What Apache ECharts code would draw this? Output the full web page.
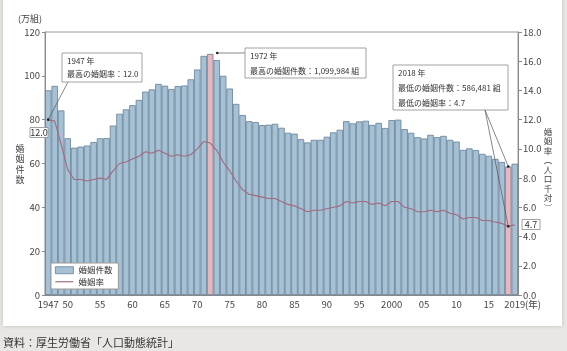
<!DOCTYPE html>
<html>
<head>
<meta charset="utf-8">
<script src="https://cdn.jsdelivr.net/npm/echarts@6/dist/echarts.min.js"></script>
<style>
  html, body { margin: 0; padding: 0; background: #e9e7e4; }
  #chart { width: 567px; height: 351px; }
</style>
</head>
<body>
<div id="chart"></div>
<script>
// 婚姻件数（万組）と婚姻率（人口千対）
const years = []
for (let y = 1947; y <= 2019; y++) years.push(String(y))

const marriages = [
  93.4, 95.4, 84.2, 71.5, 67.2, 67.7, 68.2, 69.8, 71.5, 71.6,
  77.3, 82.7, 84.7, 86.6, 89.0, 92.8, 93.8, 96.3, 95.5, 94.0,
  95.3, 95.6, 98.4, 102.9, 109.1, 110.0, 107.2, 100.0, 94.2, 87.2,
  82.1, 79.3, 78.9, 77.5, 77.7, 78.1, 76.3, 74.0, 73.6, 71.1,
  69.6, 70.8, 70.8, 72.2, 74.2, 75.4, 79.3, 78.3, 79.2, 79.5,
  77.6, 78.5, 76.2, 79.8, 80.0, 75.7, 74.0, 72.0, 71.4, 73.1,
  72.0, 72.6, 70.8, 70.0, 66.2, 66.9, 66.1, 64.4, 63.5, 62.1,
  60.7, 58.6, 59.9
]

const rates = [
  12.0, 11.9, 10.3, 8.6, 7.9, 7.9, 7.8, 7.9, 8.0, 7.9,
  8.5, 9.0, 9.1, 9.3, 9.5, 9.8, 9.7, 9.9, 9.7, 9.5,
  9.6, 9.5, 9.6, 10.0, 10.5, 10.4, 9.9, 9.1, 8.5, 7.8,
  7.2, 6.9, 6.8, 6.7, 6.6, 6.6, 6.4, 6.2, 6.1, 5.9,
  5.7, 5.8, 5.8, 5.9, 6.0, 6.1, 6.4, 6.3, 6.4, 6.4,
  6.2, 6.3, 6.1, 6.4, 6.4, 6.0, 5.9, 5.7, 5.7, 5.8,
  5.7, 5.8, 5.6, 5.5, 5.2, 5.3, 5.3, 5.1, 5.1, 5.0,
  4.9, 4.7, 4.8
]

const highlightYears = ['1972', '2018']
const countsExact = { '1972': 1099984, '2018': 586481 }
const leftTicks = { min: 0, max: 120, interval: 20 }
const rightTicks = { min: 0, max: 18, interval: 2 }

const FONT = '"Noto Sans CJK JP", "Noto Sans", sans-serif'
const BAR = '#a6c1d4'
const BAR_EDGE = '#637f97'
const PINK = '#e6b8be'
const LINE = '#a2697f'

const chart = echarts.init(document.getElementById('chart'))

chart.setOption({
  animation: false,
  textStyle: { fontFamily: FONT },
  grid: {
    left: 45, right: 49, top: 32, bottom: 56,
    show: true, borderColor: '#9a9a9a', borderWidth: 1
  },
  legend: {
    orient: 'vertical',
    left: 51, top: 263,
    backgroundColor: '#fff',
    borderColor: '#9a9a9a', borderWidth: 1,
    padding: [3, 6, 3, 4],
    itemWidth: 18, itemHeight: 7, itemGap: 3,
    textStyle: { fontSize: 8.5, color: '#333', fontFamily: FONT },
    data: [
      { name: '婚姻件数', icon: 'rect', itemStyle: { color: BAR, borderColor: BAR_EDGE, borderWidth: 0.8 } },
      { name: '婚姻率', icon: 'path://M0,0H20V1.3H0Z', itemStyle: { color: LINE, borderWidth: 0 } }
    ]
  },
  xAxis: {
    type: 'category',
    data: years,
    axisLine: { lineStyle: { color: '#8a8a8a' } },
    axisTick: { show: false },
    axisLabel: {
      color: '#444', fontSize: 9.5, margin: 5, fontFamily: FONT,
      interval: (i, v) => i === 0 || v === '2019' || (+v % 5 === 0 && +v >= 1950 && +v <= 2015),
      formatter: v => (v === '1947' || v === '2000' || v === '2019') ? v : v.slice(2)
    }
  },
  yAxis: [{
    type: 'value',
    min: leftTicks.min, max: leftTicks.max, interval: leftTicks.interval,
    axisLine: { show: true, lineStyle: { color: '#8a8a8a' } },
    axisTick: { show: true, length: 3, lineStyle: { color: '#8a8a8a' } },
    axisLabel: { color: '#444', fontSize: 9.5, margin: 5, fontFamily: FONT },
    splitLine: { show: false }
  }, {
    type: 'value',
    position: 'right',
    min: rightTicks.min, max: rightTicks.max, interval: rightTicks.interval,
    axisLine: { show: true, lineStyle: { color: '#8a8a8a' } },
    axisTick: { show: true, length: 4, lineStyle: { color: '#8a8a8a' } },
    axisLabel: { color: '#444', fontSize: 9.5, margin: 5, fontFamily: FONT, formatter: v => v.toFixed(1) },
    splitLine: { show: false }
  }],
  series: [{
    name: '婚姻件数',
    type: 'bar',
    data: marriages,
    barCategoryGap: '0%',
    itemStyle: {
      color: p => highlightYears.includes(p.name) ? PINK : BAR,
      borderColor: BAR_EDGE,
      borderWidth: 0.8
    }
  }, {
    name: '婚姻率',
    type: 'line',
    yAxisIndex: 1,
    data: rates,
    symbol: 'none',
    lineStyle: { color: LINE, width: 1.1 },
    itemStyle: { color: LINE },
    z: 5
  }]
})

// 注記（吹き出し）: 指す先の位置はライブラリの座標変換から取る
const px = (si, name, val) => chart.convertToPixel({ seriesIndex: si }, [years.indexOf(name), val])

const iMaxRate = rates.indexOf(Math.max(...rates))
const iMaxCount = marriages.indexOf(Math.max(...marriages))
const iMinCount = marriages.indexOf(Math.min(...marriages))
const iMinRate = rates.indexOf(Math.min(...rates))

const pMaxRate = px(1, years[iMaxRate], rates[iMaxRate])
const pMaxCount = px(0, years[iMaxCount], marriages[iMaxCount])
const pMinCount = px(0, years[iMinCount], marriages[iMinCount])
const pMinRate = px(1, years[iMinRate], rates[iMinRate])

const countText = y => (countsExact[y] || 0).toLocaleString('en-US')

function box(x, y, w, h, lines, gap) {
  const els = [{
    type: 'rect', shape: { x: x, y: y, width: w, height: h },
    style: { fill: '#fff', stroke: '#8a8a8a', lineWidth: 0.8 }, z: 20
  }]
  lines.forEach((t, i) => {
    els.push({
      type: 'text', x: x + 5, y: y + 8 + i * gap, z: 21,
      style: { text: t, fontSize: 8, fill: '#333', fontFamily: FONT, verticalAlign: 'middle' }
    })
  })
  return els
}
function leader(x1, y1, x2, y2) {
  return [{
    type: 'line', shape: { x1: x1, y1: y1, x2: x2, y2: y2 },
    style: { stroke: '#555', lineWidth: 0.7 }, z: 19
  }, {
    type: 'circle', shape: { cx: x2, cy: y2, r: 1.3 },
    style: { fill: '#222' }, z: 22
  }]
}
function valueTag(cx, cy, t) {
  return [{
    type: 'rect', shape: { x: cx - 9, y: cy - 5, width: 18, height: 10 },
    style: { fill: '#fff', stroke: '#8a8a8a', lineWidth: 0.8 }, z: 20
  }, {
    type: 'text', x: cx, y: cy, z: 21,
    style: { text: t, fontSize: 9, fill: '#333', fontFamily: FONT, align: 'center', verticalAlign: 'middle' }
  }]
}

const g = []
g.push({
  type: 'rect', shape: { x: 3, y: -5, width: 559, height: 331 },
  style: { fill: '#fff', shadowBlur: 4, shadowColor: 'rgba(0,0,0,0.18)' }, z: -10
})
g.push({ type: 'text', x: 18, y: 19, style: { text: '(万組)', fontSize: 9, fill: '#444', fontFamily: FONT, verticalAlign: 'middle' } })
g.push({ type: 'text', x: 20, y: 143, style: { text: '婚\n姻\n件\n数', fontSize: 9, lineHeight: 10.5, fill: '#444', fontFamily: FONT, align: 'center' } })
g.push({ type: 'text', x: 548, y: 127, style: { text: '婚\n姻\n率\n︵\n人\n口\n千\n対\n︶', fontSize: 8.5, lineHeight: 9.5, fill: '#444', fontFamily: FONT, align: 'center' } })
g.push({ type: 'text', x: 525, y: 304, style: { text: '(年)', fontSize: 9.5, fill: '#444', fontFamily: FONT, verticalAlign: 'middle' } })
g.push({ type: 'text', x: 3, y: 343, style: { text: '資料：厚生労働省「人口動態統計」', fontSize: 11, fill: '#333', fontFamily: FONT, verticalAlign: 'middle' } })

g.push(...box(62, 53, 80, 29, [years[iMaxRate] + ' 年', '最高の婚姻率：' + rates[iMaxRate].toFixed(1)], 13))
g.push(...leader(68, 82, pMaxRate[0], pMaxRate[1]))
g.push(...valueTag(39, 132.5, rates[iMaxRate].toFixed(1)))

g.push(...box(245, 48, 121, 30, [years[iMaxCount] + ' 年', '最高の婚姻件数：' + countText(years[iMaxCount]) + ' 組'], 15))
g.push(...leader(245, 53, pMaxCount[0] + 7, 53))

g.push(...box(393, 65, 115, 45, [years[iMinCount] + ' 年', '最低の婚姻件数：' + countText(years[iMinCount]) + ' 組', '最低の婚姻率：' + rates[iMinRate].toFixed(1)], 15))
g.push(...leader(485, 110, pMinCount[0], pMinCount[1]))
g.push(...leader(485, 110, pMinRate[0], pMinRate[1]))
g.push(...valueTag(531, 224.5, rates[iMinRate].toFixed(1)))

chart.setOption({ graphic: g })
</script>
</body>
</html>
